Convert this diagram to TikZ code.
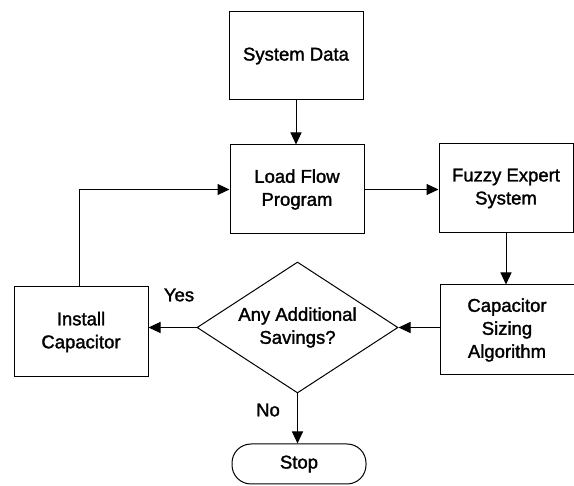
\documentclass[tikz,border=0pt]{standalone}
\usepackage{fontspec}
\setmainfont{Liberation Sans}[FakeBold=1.6]
\usetikzlibrary{arrows.meta,shapes.geometric}
\begin{document}
\begin{tikzpicture}[x=1pt,y=-1pt,
  every node/.style={font=\fontsize{18.5}{23}\selectfont, align=center, inner sep=0pt},
  box/.style={draw, line width=1pt, minimum width=134pt, minimum height=89pt},
  decision/.style={draw, line width=1pt, diamond, aspect=1.53, minimum width=201pt, minimum height=131pt},
  term/.style={draw, line width=1pt, rounded corners=19pt, minimum width=134pt, minimum height=40pt},
  conn/.style={line width=1pt, -{Triangle[length=12pt,width=11pt]}},
  lbl/.style={font=\fontsize{18.5}{23}\selectfont}]
\useasboundingbox (0,0) rectangle (574,486);
\node[box, minimum height=88pt] (sys) at (296,56) {System Data};
\node[box] (lf) at (297,189.5) {Load Flow\\Program};
\node[box] (fz) at (506,188.5) {Fuzzy Expert\\System};
\node[box, minimum height=90pt] (cs) at (507,330) {Capacitor\\Sizing\\Algorithm};
\node[decision] (dia) at (297.5,327.5) {Any Additional\\Savings?};
\node[box, minimum height=90pt] (ins) at (81,332) {Install\\Capacitor};
\node[term] (stop) at (299,464) {Stop};
\node[lbl] (yes) at (179,295) {Yes};
\node[lbl] (no) at (268,410) {No};
\draw[conn] (sys.south) -- (sys.south |- lf.north);
\draw[conn] (lf.east) -- (lf.east -| fz.west);
\draw[conn] (fz.south) -- (fz.south |- cs.north);
\draw[conn] (cs.west |- dia.east) -- (dia.east);
\draw[conn] (dia.west) -- (dia.west -| ins.east);
\draw[conn] ([xshift=-2pt]ins.north) |- (lf.west);
\draw[conn] (dia.south) -- (dia.south |- stop.north);
\end{tikzpicture}
\end{document}
